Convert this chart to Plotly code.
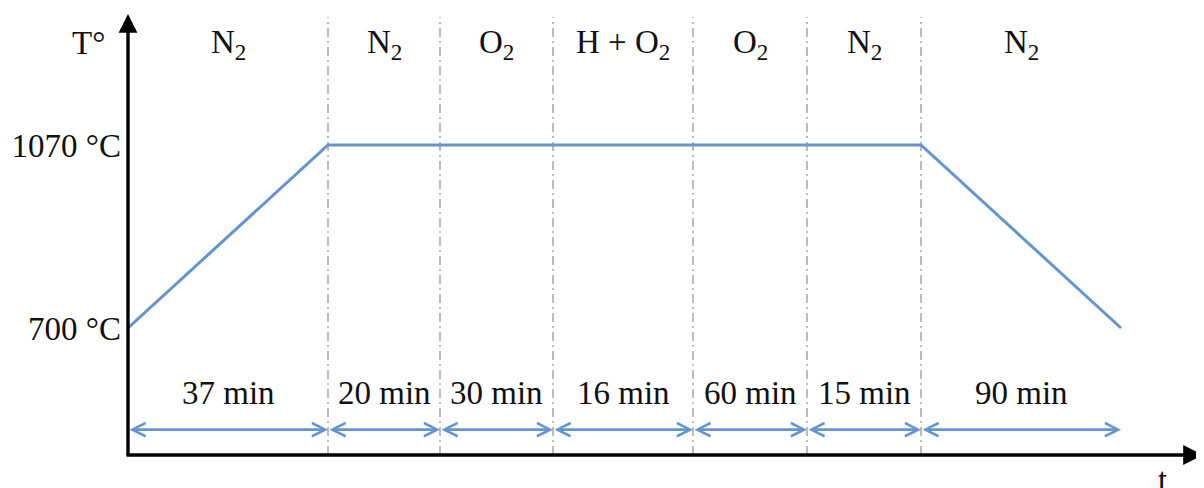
import plotly.graph_objects as go

# ---- data ----
gases = ["N<sub>2</sub>", "N<sub>2</sub>", "O<sub>2</sub>", "H + O<sub>2</sub>",
         "O<sub>2</sub>", "N<sub>2</sub>", "N<sub>2</sub>"]
durations = [37, 20, 30, 16, 60, 15, 90]
# schematic (non-proportional) segment boundaries along the time axis
boundaries = [0, 200, 312, 425, 565, 679, 793, 993]
profile_x = [0, 200, 793, 993]
profile_t = [700, 1070, 1070, 700]
temp_ticks = [700, 1070]
temp_labels = ["700 °C", "1070 °C"]

BLUE = "#6495CF"
FONT = "Liberation Serif"
FS = 33

X_RANGE = [0, 1072]
Y_RANGE = [443.2, 1334.9]
Y_ARROW = 494.5
Y_MIN_LABEL = 568.5
Y_GAS_LABEL = 1273
Y_DASH_TOP = 1329

fig = go.Figure()

# temperature profile
fig.add_trace(go.Scatter(x=profile_x, y=profile_t, mode="lines",
                         line=dict(color=BLUE, width=3), hoverinfo="skip",
                         showlegend=False))

shapes = []
annotations = []

# dashed separators
for b in boundaries[1:-1]:
    shapes.append(dict(type="line", xref="x", yref="y", x0=b, x1=b,
                       y0=Y_RANGE[0], y1=Y_DASH_TOP,
                       line=dict(color="#a6a6a6", width=1.5,
                                 dash="9px,4px,2px,4px"), layer="below"))

for i in range(len(durations)):
    x0, x1 = boundaries[i], boundaries[i + 1]
    xc = (x0 + x1) / 2
    # double-headed duration arrow
    annotations.append(dict(x=x1, y=Y_ARROW, ax=x0, ay=Y_ARROW,
                            xref="x", yref="y", axref="x", ayref="y",
                            text="", showarrow=True, arrowside="end+start",
                            arrowhead=5, startarrowhead=5,
                            arrowsize=1.0, startarrowsize=1.0,
                            arrowwidth=2.6, arrowcolor=BLUE,
                            standoff=0, startstandoff=0))
    # duration label
    annotations.append(dict(x=xc, y=Y_MIN_LABEL, xref="x", yref="y",
                            text=f"{durations[i]} min", showarrow=False,
                            font=dict(family=FONT, size=FS, color="#111111"),
                            xanchor="center", yanchor="middle"))
    # gas label
    annotations.append(dict(x=xc, y=Y_GAS_LABEL, xref="x", yref="y",
                            text=gases[i], showarrow=False,
                            font=dict(family=FONT, size=FS, color="#111111"),
                            xanchor="center", yanchor="middle"))

# axis arrows
annotations.append(dict(x=0, y=1, xref="paper", yref="paper", ax=0, ay=443,
                        text="", showarrow=True, arrowhead=2, arrowsize=1.1,
                        arrowwidth=3.4, arrowcolor="#000000", standoff=0))
annotations.append(dict(x=1.0028, y=0, xref="paper", yref="paper", ax=-1078, ay=0,
                        text="", showarrow=True, arrowhead=2, arrowsize=1.1,
                        arrowwidth=3.6, arrowcolor="#000000", standoff=0))

# axis titles
annotations.append(dict(x=-0.0364, y=0.934, xref="paper", yref="paper",
                        text="T°", showarrow=False,
                        font=dict(family=FONT, size=FS, color="#111111"),
                        xanchor="center", yanchor="middle"))
annotations.append(dict(x=(1162 - 128) / 1072, y=-0.012, xref="paper", yref="paper",
                        text="t", showarrow=False,
                        font=dict(family=FONT, size=FS, color="#111111"),
                        xanchor="center", yanchor="top"))

fig.update_layout(
    width=1196, height=480, autosize=False,
    margin=dict(l=120, r=4, t=6, b=33, pad=0),
    paper_bgcolor="white", plot_bgcolor="white",
    shapes=shapes, annotations=annotations,
    xaxis=dict(range=X_RANGE, showgrid=False, zeroline=False, showline=False,
               showticklabels=False, ticks=""),
    yaxis=dict(range=Y_RANGE, showgrid=False, zeroline=False, showline=False,
               tickvals=temp_ticks, ticktext=temp_labels, ticks="",
               ticklabelstandoff=6,
               tickfont=dict(family=FONT, size=FS, color="#111111")),
)

fig.write_html("out.html")
